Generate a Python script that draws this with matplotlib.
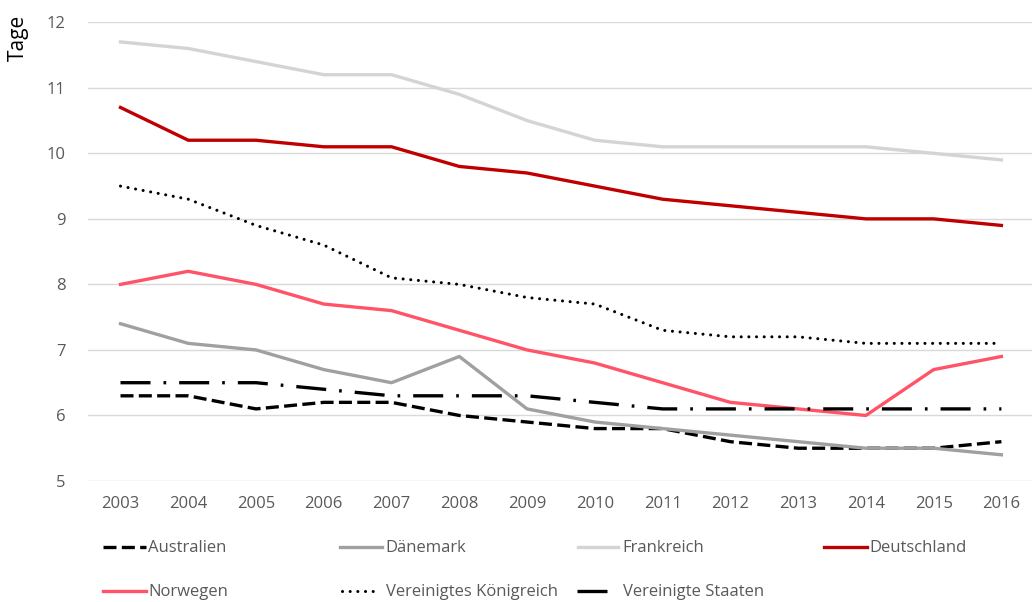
import matplotlib
matplotlib.use("Agg")
import matplotlib.pyplot as plt

plt.rcParams['font.family'] = ['Open Sans', 'DejaVu Sans']

years = list(range(2003, 2017))

australien = [6.3, 6.3, 6.1, 6.2, 6.2, 6.0, 5.9, 5.8, 5.8, 5.6, 5.5, 5.5, 5.5, 5.6]
daenemark = [7.4, 7.1, 7.0, 6.7, 6.5, 6.9, 6.1, 5.9, 5.8, 5.7, 5.6, 5.5, 5.5, 5.4]
frankreich = [11.7, 11.6, 11.4, 11.2, 11.2, 10.9, 10.5, 10.2, 10.1, 10.1, 10.1, 10.1, 10.0, 9.9]
deutschland = [10.7, 10.2, 10.2, 10.1, 10.1, 9.8, 9.7, 9.5, 9.3, 9.2, 9.1, 9.0, 9.0, 8.9]
norwegen = [8.0, 8.2, 8.0, 7.7, 7.6, 7.3, 7.0, 6.8, 6.5, 6.2, 6.1, 6.0, 6.7, 6.9]
uk = [9.5, 9.3, 8.9, 8.6, 8.1, 8.0, 7.8, 7.7, 7.3, 7.2, 7.2, 7.1, 7.1, 7.1]
usa = [6.5, 6.5, 6.5, 6.4, 6.3, 6.3, 6.3, 6.2, 6.1, 6.1, 6.1, 6.1, 6.1, 6.1]

fig = plt.figure(figsize=(10.35, 6.02), dpi=100)
ax = fig.add_axes([0.085, 0.201, 0.912, 0.762])

lw = 2.4
h_au, = ax.plot(years, australien, color='black', lw=lw, dashes=(3.9, 1.6), label='Australien')
h_dk, = ax.plot(years, daenemark, color='#A0A0A0', lw=lw, label='Dänemark')
h_fr, = ax.plot(years, frankreich, color='#D4D4D4', lw=lw, label='Frankreich')
h_de, = ax.plot(years, deutschland, color='#C00000', lw=lw, label='Deutschland')
h_no, = ax.plot(years, norwegen, color='#FF5468', lw=lw, label='Norwegen')
h_uk, = ax.plot(years, uk, color='black', lw=2.2, linestyle=(0, (0.01, 2.5)),
                dash_capstyle='round', label='Vereinigtes Königreich')
h_us, = ax.plot(years, usa, color='black', lw=lw, dashes=(9.0, 3.9, 0.8, 3.9), label='Vereinigte Staaten')

ax.set_xlim(2002.52, 2016.45)
ax.set_ylim(5, 12)
ax.set_xticks(years)
ax.set_yticks(range(5, 13))
ax.grid(axis='y', color='#D9D9D9', lw=1)
ax.set_axisbelow(True)
for s in ax.spines.values():
    s.set_visible(False)
ax.tick_params(length=0, labelsize=12, labelcolor='#595959', pad=11)
ax.tick_params(axis='y', pad=16)

fig.text(0.018, 0.975, 'Tage', rotation=90, fontsize=15, ha='center', va='top')

# legend: one small legend per entry so each sits in its own slot
# (handle, left x, row y, handle length, gap to text)
slots = [
    (h_au, 0.0995, 0.089, 2.6, 0.12),
    (h_dk, 0.3285, 0.089, 2.5, 0.25),
    (h_fr, 0.5585, 0.089, 2.4, 0.25),
    (h_de, 0.7960, 0.089, 2.6, 0.12),
    (h_no, 0.0995, 0.016, 2.6, 0.12),
    (h_uk, 0.3300, 0.016, 2.1, 0.55),
    (h_us, 0.5575, 0.016, 1.8, 0.95),
]
for h, x, y, hl, tp in slots:
    leg = fig.legend(handles=[h], loc='center left', bbox_to_anchor=(x, y),
                     frameon=False, fontsize=12, handlelength=hl, handletextpad=tp,
                     borderaxespad=0, borderpad=0)
    for t in leg.get_texts():
        t.set_color('#595959')

fig.savefig('out.png', dpi=100)
